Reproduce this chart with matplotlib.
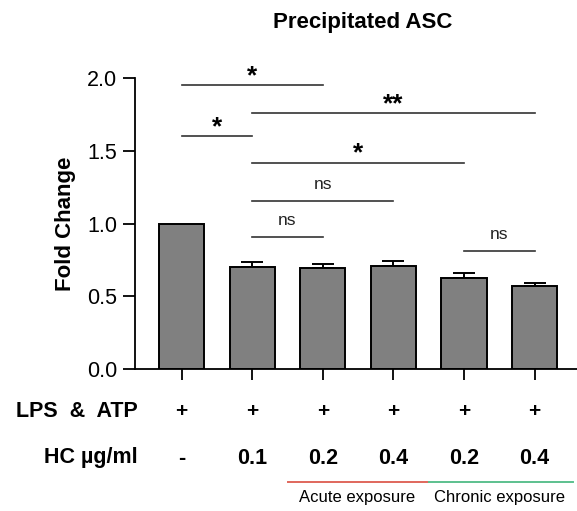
import matplotlib
matplotlib.use("Agg")
import matplotlib.pyplot as plt
import matplotlib.transforms as mtransforms
import numpy as np

plt.rcParams['font.family'] = ['Liberation Sans', 'DejaVu Sans']

# data
groups = ["ctrl", "0.1", "0.2a", "0.4a", "0.2c", "0.4c"]
fold_change = [1.0, 0.70, 0.695, 0.71, 0.625, 0.568]
sem = [0.0, 0.033, 0.029, 0.034, 0.038, 0.024]
lps_atp = ["+", "+", "+", "+", "+", "+"]
hc_dose = ["-", "0.1", "0.2", "0.4", "0.2", "0.4"]

# significance brackets: (from bar, to bar, height, label)
sig_pairs = [(0, 2, 1.95, "*"), (1, 5, 1.76, "**"), (0, 1, 1.60, "*"),
             (1, 4, 1.42, "*"), (1, 3, 1.155, "ns"), (1, 2, 0.905, "ns"),
             (4, 5, 0.81, "ns")]

# exposure groups: (start, end, label, colour)
exposure = [(1.5, 3.5, "Acute exposure", "#e0675c"),
            (3.5, 5.55, "Chronic exposure", "#5cc08e")]

fig = plt.figure(figsize=(5.77, 5.11), dpi=100)
ax = fig.add_axes([0.234, 0.278, 0.766, 0.569])

x = np.arange(len(groups))
ax.bar(x, fold_change, width=0.64, color="#808080", edgecolor="black", linewidth=1.4, zorder=2)
ax.errorbar(x[1:], fold_change[1:], yerr=[np.zeros(len(x) - 1), sem[1:]], fmt="none",
            ecolor="black", elinewidth=1.4, capsize=8, capthick=1.4, zorder=1)

for a, b, h, lab in sig_pairs:
    ax.plot([a, b], [h, h], color="#333333", lw=1.2, clip_on=False)
    if lab == "ns":
        ax.text((a + b) / 2, h + 0.115, lab, ha="center", va="center", fontsize=12.5, color="#222222")
    else:
        ax.text((a + b) / 2, h + 0.06, lab, ha="center", va="center", fontsize=19,
                fontweight="bold")

ax.set_xlim(-0.66, 5.6)
ax.set_ylim(0, 2.0)
ax.set_yticks([0.0, 0.5, 1.0, 1.5, 2.0])
ax.set_yticklabels(["0.0", "0.5", "1.0", "1.5", "2.0"])
ax.set_xticks(x)
ax.set_xticklabels([])
ax.tick_params(axis="y", length=9, width=1.3, labelsize=15.5, pad=4)
ax.tick_params(axis="x", length=8, width=1.3)
ax.spines["top"].set_visible(False)
ax.spines["right"].set_visible(False)
for s in ["left", "bottom"]:
    ax.spines[s].set_linewidth(1.3)
ax.set_ylabel("Fold Change", fontsize=16, fontweight="bold", labelpad=8)

trans = mtransforms.blended_transform_factory(ax.transData, fig.transFigure)
fig.text(0.238, 0.194, "LPS  &  ATP", ha="right", va="center", fontsize=15.5, fontweight="bold")
fig.text(0.238, 0.104, "HC µg/ml", ha="right", va="center", fontsize=15.5, fontweight="bold")
for i in range(len(groups)):
    ax.text(x[i], 0.194, lps_atp[i], transform=trans, ha="center", va="center",
            fontsize=15, fontweight="bold")
    ax.text(x[i], 0.102, hc_dose[i], transform=trans, ha="center", va="center",
            fontsize=15.5, fontweight="bold")

for a, b, lab, col in exposure:
    ax.plot([a, b], [0.057, 0.057], color=col, lw=1.4, transform=trans, clip_on=False)
    ax.text((a + b) / 2 - 0.02, 0.027, lab, transform=trans, ha="center", va="center", fontsize=12)

fig.text(0.628, 0.956, "Precipitated ASC", ha="center", va="center", fontsize=16, fontweight="bold")

fig.savefig("out.png", dpi=100)
